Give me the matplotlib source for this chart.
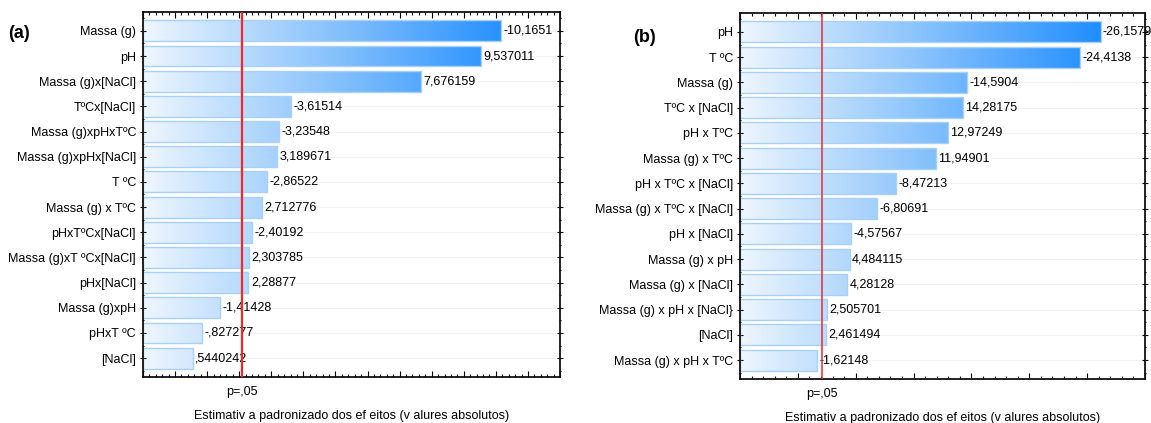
import matplotlib
matplotlib.use("Agg")
import matplotlib.pyplot as plt
import numpy as np
from matplotlib.colors import LinearSegmentedColormap
from matplotlib.ticker import MultipleLocator

plt.rcParams["font.family"] = ["Liberation Sans", "DejaVu Sans"]

# Standardized effects, panel (a)
effects_a = ["Massa (g)", "pH", "Massa (g)x[NaCl]", "TºCx[NaCl]", "Massa (g)xpHxTºC",
             "Massa (g)xpHx[NaCl]", "T ºC", "Massa (g) x TºC", "pHxTºCx[NaCl]",
             "Massa (g)xT ºCx[NaCl]", "pHx[NaCl]", "Massa (g)xpH", "pHxT ºC", "[NaCl]"]
values_a = [-10.1651, 9.537011, 7.676159, -3.61514, -3.23548, 3.189671, -2.86522,
            2.712776, -2.40192, 2.303785, 2.28877, -1.41428, -0.827277, 0.5440242]
pcrit_a = 2.08

# Standardized effects, panel (b)
effects_b = ["pH", "T ºC", "Massa (g)", "TºC x [NaCl]", "pH x TºC", "Massa (g) x TºC",
             "pH x TºC x [NaCl]", "Massa (g) x TºC x [NaCl]", "pH x [NaCl]",
             "Massa (g) x pH", "Massa (g) x [NaCl]", "Massa (g) x pH x [NaCl}",
             "[NaCl]", "Massa (g) x pH x TºC"]
values_b = [-26.1579, -24.4138, -14.5904, 14.28175, 12.97249, 11.94901, -8.47213,
            -6.80691, -4.57567, 4.484115, 4.28128, 2.505701, 2.461494, -1.62148]
pcrit_b = 2.11

xlabel = "Estimativ a padronizado dos ef eitos (v alures absolutos)"
FS = 9

grad = LinearSegmentedColormap.from_list(
    "bars", [(0.0, "#eef6fe"), (0.45, "#88c2fc"), (0.9, "#1e8cff"), (1.0, "#1480ff")])


def fmt(v):
    s = str(v)
    if abs(v) < 1:
        s = s.replace("0.", ".", 1)
    return s.replace(".", ",")


def pareto(ax, names, vals, pcrit, xlim, major, minor, tag, tag_xy, red_lw, xlab_y):
    n = len(names)
    y = np.arange(n)
    for yy in y:
        ax.axhline(yy, color="#f2f2f2", lw=0.8, zorder=0)
    bars = ax.barh(y, [abs(v) - xlim[0] for v in vals], left=xlim[0], height=0.83,
                   facecolor="none", edgecolor="#a9d1f7", lw=1.0, zorder=2)
    # gradient fill running across the whole axis, clipped to each bar
    ramp = np.linspace(0, 1, 256).reshape(1, -1)
    for b in bars:
        im = ax.imshow(ramp, cmap=grad, aspect="auto", zorder=1,
                       extent=(xlim[0], xlim[1], n, -1))
        im.set_clip_path(b)
    ax.set_xlim(*xlim)
    ax.set_ylim(n - 0.25, -0.75)
    off = 0.006 * (xlim[1] - xlim[0])
    for yy, v in zip(y, vals):
        ax.text(abs(v) + off, yy, fmt(v), va="center", ha="left", fontsize=FS,
                clip_on=False, zorder=3)
    ax.axvline(pcrit, color="#f02828", lw=red_lw, zorder=4)
    ax.text(pcrit, -0.04, "p=,05", transform=ax.get_xaxis_transform(),
            ha="center", va="center", fontsize=FS)
    ax.text(0.5, xlab_y, xlabel, transform=ax.transAxes, ha="center", va="center",
            fontsize=FS)
    ax.set_yticks(y)
    ax.set_yticklabels(names, fontsize=FS)
    ax.yaxis.set_minor_locator(MultipleLocator(0.5))
    ax.xaxis.set_major_locator(MultipleLocator(major))
    ax.xaxis.set_minor_locator(MultipleLocator(minor))
    ax.tick_params(axis="x", which="both", direction="in", top=True, bottom=True,
                   labelbottom=False, width=0.8)
    ax.tick_params(axis="x", which="major", length=4)
    ax.tick_params(axis="x", which="minor", length=2)
    ax.tick_params(axis="y", which="both", direction="inout", right=True, width=0.8)
    ax.tick_params(axis="y", which="major", length=4, pad=3)
    ax.tick_params(axis="y", which="minor", length=2)
    for sp in ax.spines.values():
        sp.set_linewidth(1.3)
        sp.set_color("#111111")
    ax.figure.text(tag_xy[0], tag_xy[1], tag, fontsize=13, fontweight="bold",
                   ha="left", va="center")


fig = plt.figure(figsize=(11.51, 4.23), dpi=100)
ax_a = fig.add_axes([143 / 1151, 46 / 423, 417 / 1151, 365 / 423])
ax_b = fig.add_axes([740 / 1151, 44 / 423, 405 / 1151, 366 / 423])

pareto(ax_a, effects_a, values_a, pcrit_a, (-1, 12), 1, 0.2, "(a)",
       (8 / 1151, 1 - 34 / 423), 1.6, -0.107)
pareto(ax_b, effects_b, values_b, pcrit_b, (-5, 30), 5, 1, "(b)",
       (633 / 1151, 1 - 37 / 423), 1.1, -0.107)

fig.savefig("out.png", dpi=100)
